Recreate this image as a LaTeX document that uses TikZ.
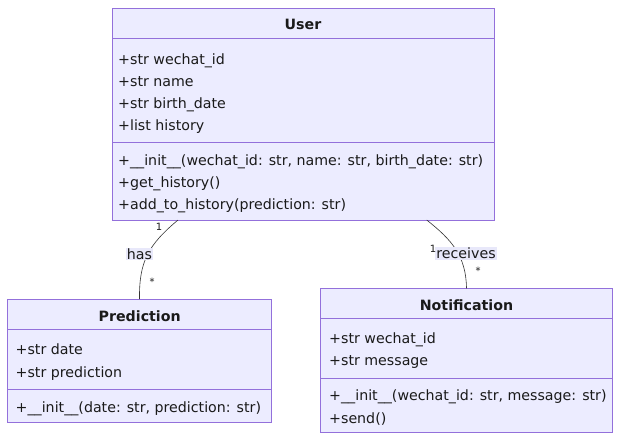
\documentclass[tikz,border=0pt]{standalone}
\usepackage{fontspec}
\setmainfont{DejaVu Sans}
\definecolor{boxfill}{HTML}{ECECFF}
\definecolor{boxdraw}{HTML}{9370DB}
\definecolor{lblfill}{HTML}{E8E8FA}
\definecolor{txt}{HTML}{1A1A1A}
\definecolor{edge}{HTML}{333333}
\begin{document}
\begin{tikzpicture}[x=1pt,y=-1pt,
  cls/.style={draw=boxdraw,fill=boxfill,line width=1pt,inner sep=0pt,outer sep=0pt,anchor=north west},
  sep/.style={draw=boxdraw,line width=1pt},
  title/.style={font=\fontsize{14.2}{16}\selectfont\bfseries,text=txt,inner sep=0pt,anchor=base},
  row/.style={font=\fontsize{14.2}{16}\selectfont,text=txt,inner sep=0pt,anchor=base west},
  rel/.style={draw=edge,line width=0.6pt},
  rellbl/.style={fill=lblfill,font=\fontsize{14.2}{16}\selectfont,text=txt,inner sep=1pt},
  mult/.style={font=\fontsize{10}{12}\selectfont,text=txt,inner sep=0pt}]
\useasboundingbox (0,0) rectangle (628,447);
% User
\node[cls,minimum width=382pt,minimum height=212pt] (user) at (112,8) {};
\draw[sep] (112,38.3) -- (494,38.3);
\draw[sep] (112,142.7) -- (494,142.7);
\node[title] (usert) at (303,29.3) {User};
\node[row] (u1) at (118,64) {+str wechat\_id};
\node[row] (u2) at (118,86.3) {+str name};
\node[row] (u3) at (118,108.5) {+str birth\_date};
\node[row] (u4) at (118,130.8) {+list history};
\node[row] (u5) at (118,165.5) {+\_\_init\_\_(wechat\_id: str, name: str, birth\_date: str)};
\node[row] (u6) at (118,187.5) {+get\_history()};
\node[row] (u7) at (118,209.5) {+add\_to\_history(prediction: str)};
% Prediction
\node[cls,minimum width=264pt,minimum height=123pt] (pred) at (7.7,299) {};
\draw[sep] (7.7,329) -- (271.7,329);
\draw[sep] (7.7,389.3) -- (271.7,389.3);
\node[title] (predt) at (139.7,321) {Prediction};
\node[row] (p1) at (15.5,354.7) {+str date};
\node[row] (p2) at (15.5,377.5) {+str prediction};
\node[row] (p3) at (15.5,412) {+\_\_init\_\_(date: str, prediction: str)};
% Notification
\node[cls,minimum width=291.6pt,minimum height=144.4pt] (noti) at (320.7,288.3) {};
\draw[sep] (320.7,318.3) -- (612.3,318.3);
\draw[sep] (320.7,378.3) -- (612.3,378.3);
\node[title] (notit) at (466.5,310.5) {Notification};
\node[row] (n1) at (329,343.5) {+str wechat\_id};
\node[row] (n2) at (329,365.8) {+str message};
\node[row] (n3) at (329,400.7) {+\_\_init\_\_(wechat\_id: str, message: str)};
\node[row] (n4) at (329,423.3) {+send()};
% connectors
\coordinate (ua) at (178,220);
\coordinate (pa) at (139.5,299);
\coordinate (ub) at (426.7,220);
\coordinate (nb) at (466.5,288.3);
\draw[rel] (ua) .. controls (148,245) and (139,262) .. (pa);
\draw[rel] (ub) .. controls (452,240) and (466,256) .. (nb);
\node[rellbl] (has) at (139.5,254) {has};
\node[rellbl] (rec) at (466,253.5) {receives};
\node[mult] (m1) at (159,227) {1};
\node[mult] (m2) at (152,282) {*};
\node[mult] (m3) at (433,249) {1};
\node[mult] (m4) at (478,271) {*};
\end{tikzpicture}
\end{document}
